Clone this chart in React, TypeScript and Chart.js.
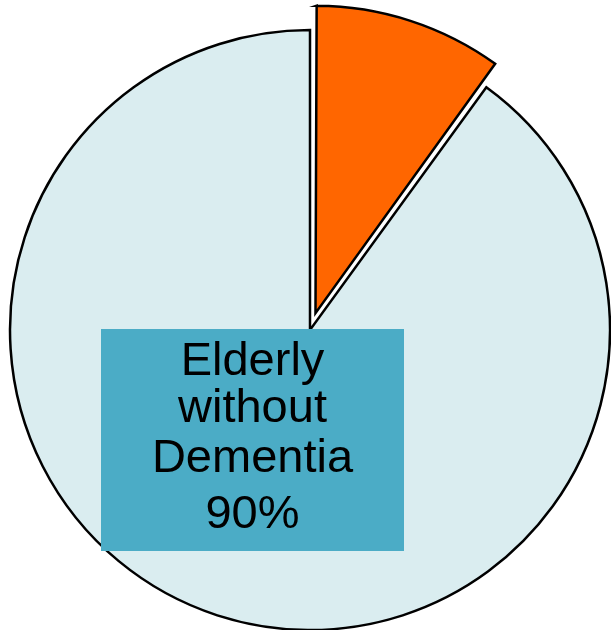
import React, { useEffect, useRef } from "react";
import { Chart, registerables } from "chart.js";

Chart.register(...registerables);

const categories = ["Elderly with Dementia", "Elderly without Dementia"];
const values = [10, 90];
const sliceColors = ["#FF6600", "#DAEDF0"];
const sliceOffsets = [71, 0];
const boxLines = ["Elderly", "without", "Dementia", "90%"];
const labelledIndex = 1;

const labelBoxPlugin = {
  id: "labelBox",
  afterDatasetsDraw(chart: any) {
    const meta = chart.getDatasetMeta(0);
    const arc = meta.data[labelledIndex];
    if (!arc) return;
    const ctx = chart.ctx;
    const cx = arc.x;
    const cy = arc.y;
    const left = cx - 209;
    const top = cy - 1;
    const w = 303;
    const h = 222;
    ctx.save();
    ctx.fillStyle = "#4BACC6";
    ctx.fillRect(left, top, w, h);
    ctx.fillStyle = "#000000";
    ctx.font = '47px "Liberation Sans", Arial, sans-serif';
    ctx.textAlign = "center";
    ctx.textBaseline = "alphabetic";
    const baselines = [46, 93, 143, 199];
    boxLines.forEach((line, i) => {
      ctx.fillText(line, left + w / 2, top + baselines[i]);
    });
    ctx.restore();
  },
};

export default function App() {
  const ref = useRef<HTMLCanvasElement | null>(null);
  useEffect(() => {
    if (!ref.current) return;
    const chart = new Chart(ref.current, {
      type: "pie",
      data: {
        labels: categories,
        datasets: [
          {
            data: values,
            backgroundColor: sliceColors,
            borderColor: "#000000",
            borderWidth: 2.5,
            borderJoinStyle: "miter",
            offset: sliceOffsets,
            clip: false,
          } as any,
        ],
      },
      options: {
        animation: false,
        responsive: false,
        devicePixelRatio: 1,
        radius: 300,
        layout: { padding: { left: 9, right: 0, top: 30, bottom: 0 } },
        plugins: {
          legend: { display: false },
          tooltip: { enabled: false },
        },
      } as any,
      plugins: [labelBoxPlugin],
    });
    return () => chart.destroy();
  }, []);
  return (
    <div style={{ position: "absolute", left: 0, top: 0, width: 611, height: 630, background: "#ffffff" }}>
      <canvas ref={ref} width={611} height={630} style={{ display: "block", width: 611, height: 630 }} />
    </div>
  );
}
